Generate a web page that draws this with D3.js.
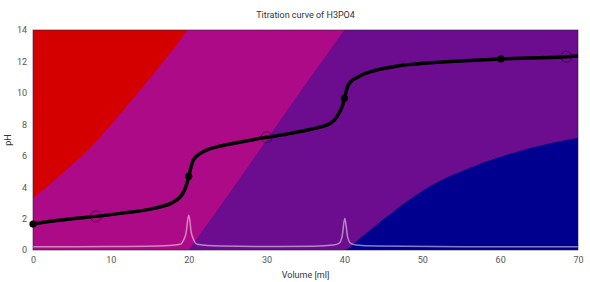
<!DOCTYPE html>
<html>
<head>
    <title>Titration curve of H3PO4</title>
    <script src="https://d3js.org/d3.v7.min.js"></script>
    <style type="text/css">
        html, body { margin: 0; background: #fff; }
        text { font-family: Roboto, "DejaVu Sans", sans-serif; }
    </style>
</head>
<body>
<div id="chart"></div>
<script type="text/javascript">
    // titration curve [volume ml, pH]
    var curve = [[0,1.65],[2,1.82],[4,1.93],[6,2.04],[8.07,2.14],[11.2,2.33],[15.5,2.65],[18.1,3.07],
        [19.35,3.7],[19.75,4.2],[20,4.7],[20.3,5.3],[20.6,5.73],[21.5,6.15],[22.5,6.4],[24.1,6.62],
        [26.2,6.83],[30,7.17],[32.65,7.38],[35.65,7.68],[38.2,8.06],[39.3,8.7],[39.75,9.2],[40,9.65],
        [40.4,10.4],[40.8,10.7],[41.7,11.0],[42.5,11.2],[43.4,11.35],[46.8,11.71],[51.1,11.92],
        [55.4,12.05],[60.1,12.16],[68.5,12.3],[70,12.35]];
    // derivative-like light line
    var deriv = [[0,0.21],[10,0.22],[16,0.25],[18.9,0.36],[19.35,0.64],[19.65,1.06],[20,2.23],
        [20.35,1.06],[20.65,0.64],[21.1,0.36],[24,0.25],[30,0.22],[36,0.24],[38.6,0.32],[39.3,0.42],
        [39.7,0.85],[40.05,2.02],[40.4,0.85],[40.8,0.42],[41.5,0.32],[44,0.25],[55,0.21],[70,0.2]];
    var equivPoints = [[0,1.65],[20,4.7],[40,9.65],[60.1,12.16]];
    var halfPoints = [[8.07,2.14],[30,7.17],[68.5,12.3]];

    // species boundaries (stacked, scaled to 0..14)
    var bndH2PO4 = [[0,3.29],[1,3.7],[2,4.12],[3,4.55],[4,4.98],[5,5.42],[6,5.87],[7,6.33],[8,6.85],
        [9,7.4],[10,7.97],[11,8.55],[12,9.13],[13,9.72],[14,10.32],[15,10.92],[16,11.53],[17,12.15],
        [18,12.78],[19,13.42],[19.8,14],[70,14]];
    var bndHPO4 = [[0,0],[20,0],[25,3.45],[30,7.0],[35,10.55],[40,14],[70,14]];
    var bndPO4 = [[0,0],[40,0],[40.5,0.1],[41,0.3],[42,0.75],[43,1.15],[44,1.55],[45,1.95],[46,2.33],
        [47,2.72],[48,3.08],[49,3.42],[50,3.75],[51,4.05],[52,4.32],[53,4.58],[54,4.8],[55,5.0],
        [56,5.2],[57,5.4],[58,5.6],[59,5.76],[60,5.92],[61,6.07],[62,6.22],[63,6.36],[64,6.5],
        [65,6.62],[66,6.74],[67,6.85],[68,6.95],[69,7.05],[70,7.15]];

    var xTicks = [0,10,20,30,40,50,60,70];
    var yTicks = [0,2,4,6,8,10,12,14];

    var width = 590, height = 282;
    var margin = {top: 30, right: 12, bottom: 32, left: 33};

    var svg = d3.select("#chart").append("svg")
        .attr("width", width).attr("height", height);

    var x = d3.scaleLinear().domain([0, 70]).range([margin.left, width - margin.right]);
    var y = d3.scaleLinear().domain([0, 14]).range([height - margin.bottom, margin.top]);

    svg.append("clipPath").attr("id", "clip").append("rect")
        .attr("x", x(0)).attr("y", y(14))
        .attr("width", x(70) - x(0)).attr("height", y(0) - y(14));

    var plot = svg.append("g").attr("clip-path", "url(#clip)");

    // H3PO4 on top
    plot.append("rect")
        .attr("x", x(0)).attr("y", y(14))
        .attr("width", x(70) - x(0)).attr("height", y(0) - y(14))
        .attr("fill", "#d40000");

    function band(pts, color) {
        var area = d3.area()
            .x(function(d) { return x(d[0]); })
            .y0(y(0))
            .y1(function(d) { return y(d[1]); });
        plot.append("path").datum(pts).attr("d", area).attr("fill", color);
    }
    band(bndH2PO4, "#ad0a87");
    band(bndHPO4, "#6c0c8e");
    band(bndPO4, "#00008f");

    var line = d3.line()
        .x(function(d) { return x(d[0]); })
        .y(function(d) { return y(d[1]); })
        .curve(d3.curveMonotoneX);

    plot.append("path").datum(deriv).attr("d", line)
        .attr("fill", "none").attr("stroke", "rgba(255,255,255,0.5)").attr("stroke-width", 1.5);

    // frame
    svg.append("rect")
        .attr("x", x(0)).attr("y", y(14))
        .attr("width", x(70) - x(0)).attr("height", y(0) - y(14))
        .attr("fill", "none").attr("stroke", "rgba(40,20,50,0.55)").attr("stroke-width", 1);

    svg.append("path").datum(curve).attr("d", line)
        .attr("fill", "none").attr("stroke", "#000").attr("stroke-width", 3.5);

    svg.selectAll("circle.eq").data(equivPoints).enter().append("circle")
        .attr("class", "eq")
        .attr("cx", function(d) { return x(d[0]); })
        .attr("cy", function(d) { return y(d[1]); })
        .attr("r", 3.6).attr("fill", "#000");

    svg.selectAll("circle.half").data(halfPoints).enter().append("circle")
        .attr("class", "half")
        .attr("cx", function(d) { return x(d[0]); })
        .attr("cy", function(d) { return y(d[1]); })
        .attr("r", 5.5).attr("fill", "none")
        .attr("stroke", "rgba(40,0,40,0.6)").attr("stroke-width", 1);

    // axes, no tick marks
    var xAxis = svg.append("g").attr("transform", "translate(0," + y(0) + ")")
        .call(d3.axisBottom(x).tickValues(xTicks).tickSize(0).tickPadding(7));
    var yAxis = svg.append("g").attr("transform", "translate(" + x(0) + ",0)")
        .call(d3.axisLeft(y).tickValues(yTicks).tickSize(0).tickPadding(6));
    [xAxis, yAxis].forEach(function(a) {
        a.select(".domain").remove();
        a.selectAll("text").attr("fill", "#555").style("font-size", "9px");
    });

    svg.append("text").attr("x", (x(0) + x(70)) / 2).attr("y", 18)
        .attr("text-anchor", "middle").attr("fill", "#333").style("font-size", "9px")
        .text("Titration curve of H3PO4");
    svg.append("text").attr("x", (x(0) + x(70)) / 2).attr("y", 278)
        .attr("text-anchor", "middle").attr("fill", "#333").style("font-size", "9px")
        .text("Volume [ml]");
    svg.append("text").attr("transform", "translate(11," + y(7) + ") rotate(-90)")
        .attr("text-anchor", "middle").attr("fill", "#333").style("font-size", "9px")
        .text("pH");
</script>
</body>
</html>
